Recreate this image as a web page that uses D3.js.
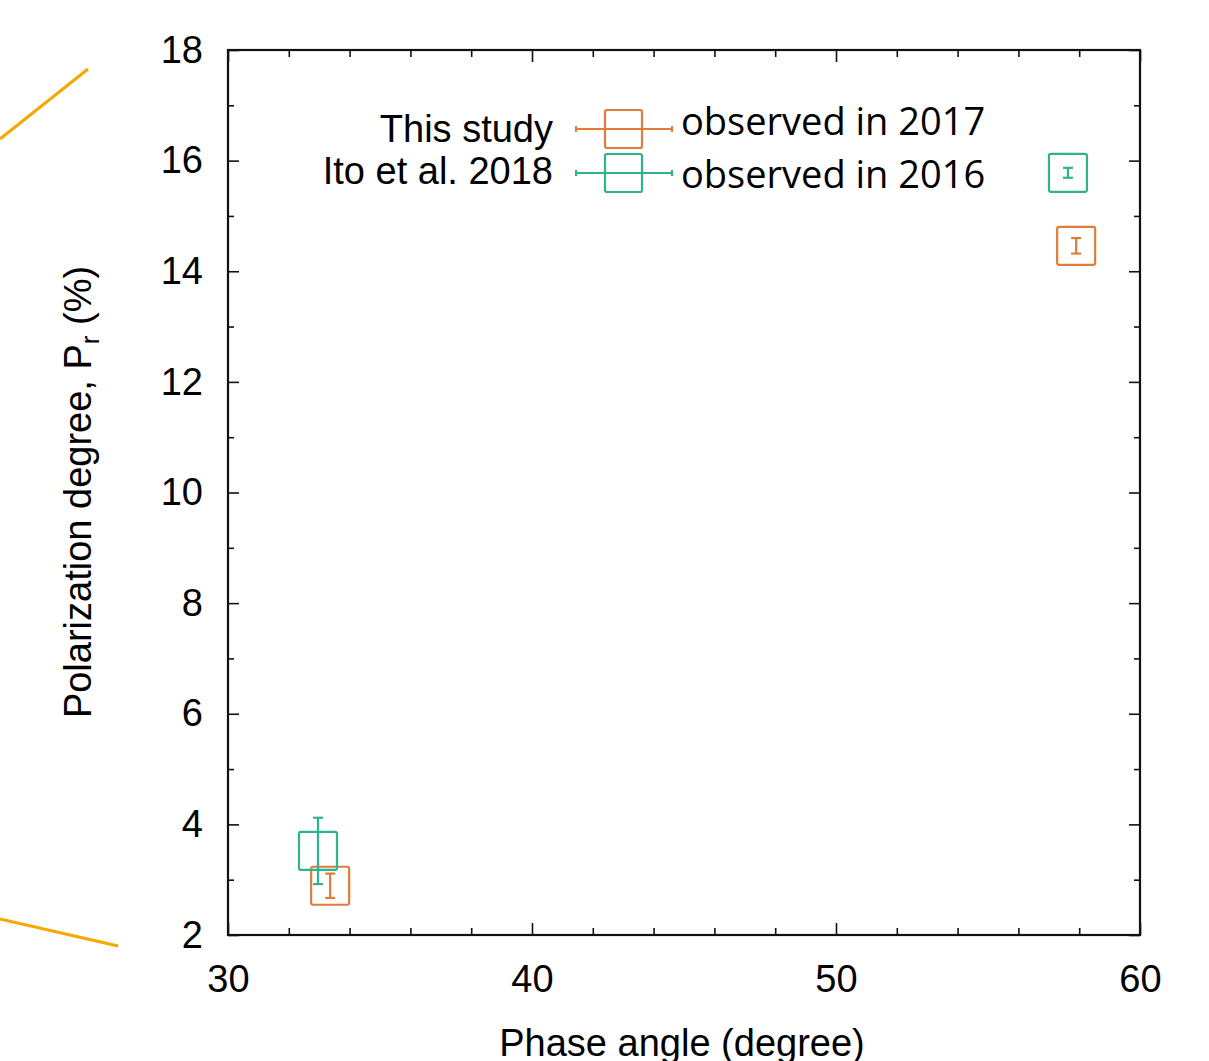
<!DOCTYPE html>
<html><head><meta charset="utf-8">
<script src="https://cdn.jsdelivr.net/npm/d3@7"></script>
<style>body{margin:0;background:#fff}svg{display:block}</style>
</head><body>
<svg id="c" width="1209" height="1061"></svg>
<script>
// ---- data ----
const phase2017 = [33.36, 57.9];
const pr2017    = [2.89, 14.46];
const err2017   = [0.22, 0.14];
const phase2016 = [32.96, 57.63];
const pr2016    = [3.52, 15.78];
const err2016   = [0.60, 0.09];
const xMajor = [30, 40, 50, 60];
const yMajor = [2, 4, 6, 8, 10, 12, 14, 16, 18];
const xMinor = [32, 34, 36, 38, 42, 44, 46, 48, 52, 54, 56, 58];
const yMinor = [3, 5, 7, 9, 11, 13, 15, 17];
const legendLeft = ["This study", "Ito et al. 2018"];
const legendRight = ["observed in 2017", "observed in 2016"];

const ORANGE = "#E07B3A", GREEN = "#2FB38C";
const svg = d3.select("#c");
const x = d3.scaleLinear().domain([30, 60]).range([228, 1140]);
const y = d3.scaleLinear().domain([2, 18]).range([935, 50]);
const FONT = "'Liberation Sans', Arial, sans-serif";

// decoration callout lines
svg.append("line").attr("x1", 0).attr("y1", 139).attr("x2", 88).attr("y2", 69)
  .attr("stroke", "#F5A800").attr("stroke-width", 3);
svg.append("line").attr("x1", 0).attr("y1", 919).attr("x2", 118).attr("y2", 946)
  .attr("stroke", "#F5A800").attr("stroke-width", 3);

function styleAxis(g) {
  g.select(".domain").remove();
  g.selectAll(".tick line").attr("stroke", "#111").attr("stroke-width", 1.6);
  g.selectAll("text").attr("font-family", FONT).attr("font-size", 38).attr("fill", "#000");
}
// bottom
svg.append("g").attr("transform", `translate(0,${y(2)})`)
  .call(d3.axisBottom(x).tickValues(xMajor).tickSize(-12).tickPadding(30).tickFormat(d3.format("d")))
  .call(styleAxis);
svg.append("g").attr("transform", `translate(0,${y(2)})`)
  .call(d3.axisBottom(x).tickValues(xMinor).tickSize(-7).tickFormat("")).call(styleAxis);
// top
svg.append("g").attr("transform", `translate(0,${y(18)})`)
  .call(d3.axisTop(x).tickValues(xMajor).tickSize(-12).tickFormat("")).call(styleAxis);
svg.append("g").attr("transform", `translate(0,${y(18)})`)
  .call(d3.axisTop(x).tickValues(xMinor).tickSize(-7).tickFormat("")).call(styleAxis);
// left
svg.append("g").attr("transform", `translate(${x(30)},0)`)
  .call(d3.axisLeft(y).tickValues(yMajor).tickSize(-11).tickPadding(25).tickFormat(d3.format("d")))
  .call(styleAxis);
svg.append("g").attr("transform", `translate(${x(30)},0)`)
  .call(d3.axisLeft(y).tickValues(yMinor).tickSize(-6).tickFormat("")).call(styleAxis);
// right
svg.append("g").attr("transform", `translate(${x(60)},0)`)
  .call(d3.axisRight(y).tickValues(yMajor).tickSize(-11).tickFormat("")).call(styleAxis);
svg.append("g").attr("transform", `translate(${x(60)},0)`)
  .call(d3.axisRight(y).tickValues(yMinor).tickSize(-6).tickFormat("")).call(styleAxis);

// frame
svg.append("rect").attr("x", x(30)).attr("y", y(18))
  .attr("width", x(60) - x(30)).attr("height", y(2) - y(18))
  .attr("fill", "none").attr("stroke", "#111").attr("stroke-width", 2.2);

// axis titles
svg.append("text").attr("x", 682).attr("y", 1056).attr("text-anchor", "middle")
  .attr("font-family", FONT).attr("font-size", 38).text("Phase angle (degree)");
const yl = svg.append("text").attr("transform", "translate(91,492) rotate(-90)")
  .attr("text-anchor", "middle").attr("font-family", FONT).attr("font-size", 38);
yl.append("tspan").text("Polarization degree, P");
yl.append("tspan").attr("font-size", 26).attr("dy", 8).text("r");
yl.append("tspan").attr("dy", -8).text(" (%)");

// data series
const SQ = 38;
function drawSeries(px, py, pe, color) {
  const data = px.map((d, i) => ({ x: d, y: py[i], e: pe[i] }));
  const g = svg.append("g").attr("stroke", color).attr("fill", "none").attr("stroke-width", 2.2);
  data.forEach(d => {
    const cx = x(d.x), cy = y(d.y), t = y(d.y + d.e), b = y(d.y - d.e);
    g.append("line").attr("x1", cx).attr("x2", cx).attr("y1", t).attr("y2", b);
    g.append("line").attr("x1", cx - 5).attr("x2", cx + 5).attr("y1", t).attr("y2", t);
    g.append("line").attr("x1", cx - 5).attr("x2", cx + 5).attr("y1", b).attr("y2", b);
    g.append("rect").attr("x", cx - SQ / 2).attr("y", cy - SQ / 2).attr("width", SQ).attr("height", SQ).attr("rx", 2);
  });
}
drawSeries(phase2017, pr2017, err2017, ORANGE);
drawSeries(phase2016, pr2016, err2016, GREEN);

// legend
const legY = [129, 173], legColors = [ORANGE, GREEN];
const leftBase = [142, 184], rightBase = [135, 188];
legendLeft.forEach((t, i) => {
  svg.append("text").attr("x", 553).attr("y", leftBase[i])
    .attr("text-anchor", "end").attr("font-family", FONT).attr("font-size", 38).text(t);
  const g = svg.append("g").attr("stroke", legColors[i]).attr("fill", "none").attr("stroke-width", 2.2);
  g.append("line").attr("x1", 576).attr("x2", 672).attr("y1", legY[i]).attr("y2", legY[i]);
  g.append("line").attr("x1", 576).attr("x2", 576).attr("y1", legY[i] - 3).attr("y2", legY[i] + 3);
  g.append("line").attr("x1", 672).attr("x2", 672).attr("y1", legY[i] - 3).attr("y2", legY[i] + 3);
  g.append("rect").attr("x", 605).attr("y", legY[i] - 19).attr("width", 37).attr("height", 38).attr("rx", 2);
  svg.append("text").attr("x", 681).attr("y", rightBase[i])
    .attr("font-family", "'Open Sans', 'Noto Sans', sans-serif").attr("font-size", 38).text(legendRight[i]);
});
</script>
</body></html>
